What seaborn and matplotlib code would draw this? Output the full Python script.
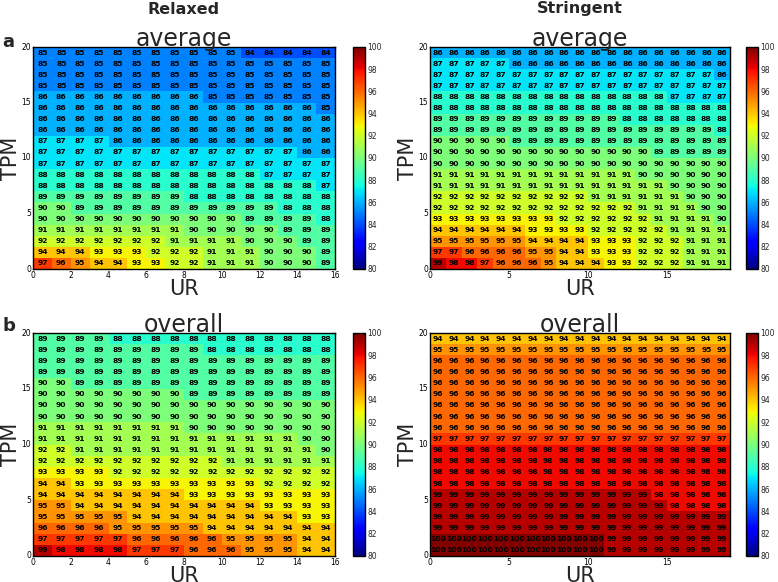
import pandas as pd
import matplotlib
matplotlib.use("Agg")
import matplotlib.pyplot as plt
import seaborn as sns

# cell values, rows from top (TPM 19-20) to bottom (TPM 0-1)
relaxed_avg = [
    [85, 85, 85, 85, 85, 85, 85, 85, 85, 85, 85, 84, 84, 84, 84, 84],
    [85, 85, 85, 85, 85, 85, 85, 85, 85, 85, 85, 85, 85, 85, 85, 85],
    [85, 85, 85, 85, 85, 85, 85, 85, 85, 85, 85, 85, 85, 85, 85, 85],
    [85, 85, 85, 85, 85, 85, 85, 85, 85, 85, 85, 85, 85, 85, 85, 85],
    [86, 86, 86, 86, 86, 86, 86, 86, 86, 85, 85, 85, 85, 85, 85, 85],
    [86, 86, 86, 86, 86, 86, 86, 86, 86, 86, 86, 86, 86, 86, 86, 85],
    [86, 86, 86, 86, 86, 86, 86, 86, 86, 86, 86, 86, 86, 86, 86, 86],
    [86, 86, 86, 86, 86, 86, 86, 86, 86, 86, 86, 86, 86, 86, 86, 86],
    [87, 87, 87, 87, 86, 86, 86, 86, 86, 86, 86, 86, 86, 86, 86, 86],
    [87, 87, 87, 87, 87, 87, 87, 87, 87, 87, 87, 87, 87, 87, 86, 86],
    [87, 87, 87, 87, 87, 87, 87, 87, 87, 87, 87, 87, 87, 87, 87, 87],
    [88, 88, 88, 88, 88, 88, 88, 88, 88, 88, 88, 88, 87, 87, 87, 87],
    [88, 88, 88, 88, 88, 88, 88, 88, 88, 88, 88, 88, 88, 88, 88, 87],
    [89, 89, 89, 89, 89, 89, 89, 89, 88, 88, 88, 88, 88, 88, 88, 88],
    [90, 90, 89, 89, 89, 89, 89, 89, 89, 89, 89, 89, 89, 88, 88, 88],
    [90, 90, 90, 90, 90, 90, 90, 90, 90, 90, 90, 89, 89, 89, 89, 88],
    [91, 91, 91, 91, 91, 91, 91, 91, 90, 90, 90, 90, 90, 89, 89, 89],
    [92, 92, 92, 92, 92, 92, 92, 91, 91, 91, 91, 90, 90, 90, 89, 89],
    [94, 94, 94, 93, 93, 93, 92, 92, 92, 91, 91, 91, 90, 90, 90, 89],
    [97, 96, 95, 94, 94, 93, 93, 92, 92, 91, 91, 91, 90, 90, 90, 89],
]

relaxed_all = [
    [89, 89, 89, 89, 88, 88, 88, 88, 88, 88, 88, 88, 88, 88, 88, 88],
    [89, 89, 89, 89, 89, 89, 89, 89, 89, 88, 88, 88, 88, 88, 88, 88],
    [89, 89, 89, 89, 89, 89, 89, 89, 89, 89, 89, 89, 89, 89, 89, 89],
    [89, 89, 89, 89, 89, 89, 89, 89, 89, 89, 89, 89, 89, 89, 89, 89],
    [90, 90, 89, 89, 89, 89, 89, 89, 89, 89, 89, 89, 89, 89, 89, 89],
    [90, 90, 90, 90, 90, 90, 90, 90, 89, 89, 89, 89, 89, 89, 89, 89],
    [90, 90, 90, 90, 90, 90, 90, 90, 90, 90, 90, 90, 90, 90, 90, 90],
    [90, 90, 90, 90, 90, 90, 90, 90, 90, 90, 90, 90, 90, 90, 90, 90],
    [91, 91, 91, 91, 91, 91, 91, 91, 90, 90, 90, 90, 90, 90, 90, 90],
    [91, 91, 91, 91, 91, 91, 91, 91, 91, 91, 91, 91, 91, 91, 90, 90],
    [92, 92, 91, 91, 91, 91, 91, 91, 91, 91, 91, 91, 91, 91, 91, 90],
    [92, 92, 92, 92, 92, 92, 92, 92, 92, 92, 91, 91, 91, 91, 91, 91],
    [93, 93, 93, 93, 92, 92, 92, 92, 92, 92, 92, 92, 92, 92, 92, 92],
    [94, 94, 93, 93, 93, 93, 93, 93, 93, 93, 93, 93, 92, 92, 92, 92],
    [94, 94, 94, 94, 94, 94, 94, 94, 93, 93, 93, 93, 93, 93, 93, 93],
    [95, 95, 94, 94, 94, 94, 94, 94, 94, 94, 94, 94, 93, 93, 93, 93],
    [95, 95, 95, 95, 95, 94, 94, 94, 94, 94, 94, 94, 94, 94, 93, 93],
    [96, 96, 96, 96, 95, 95, 95, 95, 95, 94, 94, 94, 94, 94, 94, 94],
    [97, 97, 97, 97, 97, 96, 96, 96, 96, 96, 95, 95, 95, 95, 94, 94],
    [99, 98, 98, 98, 98, 97, 97, 97, 96, 96, 96, 95, 95, 95, 94, 94],
]

stringent_avg = [
    [86, 86, 86, 86, 86, 86, 86, 86, 86, 86, 86, 86, 86, 86, 86, 86, 86, 86, 86],
    [87, 87, 87, 87, 87, 86, 86, 86, 86, 86, 86, 86, 86, 86, 86, 86, 86, 86, 86],
    [87, 87, 87, 87, 87, 87, 87, 87, 87, 87, 87, 87, 87, 87, 87, 87, 87, 87, 86],
    [87, 87, 87, 87, 87, 87, 87, 87, 87, 87, 87, 87, 87, 87, 87, 87, 87, 87, 87],
    [88, 88, 88, 88, 88, 88, 88, 88, 88, 88, 88, 88, 88, 88, 88, 87, 87, 87, 87],
    [88, 88, 88, 88, 88, 88, 88, 88, 88, 88, 88, 88, 88, 88, 88, 88, 88, 88, 88],
    [89, 89, 89, 89, 89, 89, 89, 89, 89, 89, 89, 89, 88, 88, 88, 88, 88, 88, 88],
    [89, 89, 89, 89, 89, 89, 89, 89, 89, 89, 89, 89, 89, 89, 89, 89, 89, 89, 88],
    [90, 90, 90, 90, 90, 89, 89, 89, 89, 89, 89, 89, 89, 89, 89, 89, 89, 89, 89],
    [90, 90, 90, 90, 90, 90, 90, 90, 90, 90, 90, 90, 90, 90, 89, 89, 89, 89, 89],
    [90, 90, 90, 90, 90, 90, 90, 90, 90, 90, 90, 90, 90, 90, 90, 90, 90, 90, 90],
    [91, 91, 91, 91, 91, 91, 91, 91, 91, 91, 91, 91, 91, 90, 90, 90, 90, 90, 90],
    [91, 91, 91, 91, 91, 91, 91, 91, 91, 91, 91, 91, 91, 91, 91, 90, 90, 90, 90],
    [92, 92, 92, 92, 92, 92, 92, 92, 92, 92, 91, 91, 91, 91, 91, 91, 90, 90, 90],
    [92, 92, 92, 92, 92, 92, 92, 92, 92, 92, 92, 92, 92, 91, 91, 91, 91, 90, 90],
    [93, 93, 93, 93, 93, 93, 93, 93, 92, 92, 92, 92, 92, 92, 91, 91, 91, 91, 90],
    [94, 94, 94, 94, 94, 94, 93, 93, 93, 93, 92, 92, 92, 92, 92, 91, 91, 91, 91],
    [95, 95, 95, 95, 95, 95, 94, 94, 94, 94, 93, 93, 93, 92, 92, 92, 91, 91, 91],
    [97, 97, 96, 96, 96, 96, 95, 95, 94, 94, 93, 93, 93, 92, 92, 92, 91, 91, 91],
    [99, 98, 98, 97, 96, 96, 96, 95, 94, 94, 94, 93, 93, 92, 92, 92, 91, 91, 91],
]

stringent_all = [
    [94, 94, 94, 94, 94, 94, 94, 94, 94, 94, 94, 94, 94, 94, 94, 94, 94, 94, 94],
    [95, 95, 95, 95, 95, 95, 95, 95, 95, 95, 95, 95, 95, 95, 95, 95, 95, 95, 95],
    [96, 96, 96, 96, 96, 96, 96, 96, 96, 96, 96, 96, 96, 96, 96, 96, 96, 96, 96],
    [96, 96, 96, 96, 96, 96, 96, 96, 96, 96, 96, 96, 96, 96, 96, 96, 96, 96, 96],
    [96, 96, 96, 96, 96, 96, 96, 96, 96, 96, 96, 96, 96, 96, 96, 96, 96, 96, 96],
    [96, 96, 96, 96, 96, 96, 96, 96, 96, 96, 96, 96, 96, 96, 96, 96, 96, 96, 96],
    [96, 96, 96, 96, 96, 96, 96, 96, 96, 96, 96, 96, 96, 96, 96, 96, 96, 96, 96],
    [96, 96, 96, 96, 96, 96, 96, 96, 96, 96, 96, 96, 96, 96, 96, 96, 96, 96, 96],
    [96, 96, 96, 96, 96, 96, 96, 96, 96, 96, 96, 96, 96, 96, 96, 96, 96, 96, 96],
    [97, 97, 97, 97, 97, 97, 97, 97, 97, 97, 97, 97, 97, 97, 97, 97, 97, 97, 97],
    [98, 98, 98, 98, 98, 98, 98, 98, 98, 98, 98, 98, 98, 98, 98, 98, 98, 98, 98],
    [98, 98, 98, 98, 98, 98, 98, 98, 98, 98, 98, 98, 98, 98, 98, 98, 98, 98, 98],
    [98, 98, 98, 98, 98, 98, 98, 98, 98, 98, 98, 98, 98, 98, 98, 98, 98, 98, 98],
    [98, 98, 98, 98, 98, 98, 98, 98, 98, 98, 98, 98, 98, 98, 98, 98, 98, 98, 98],
    [99, 99, 99, 99, 99, 99, 99, 99, 99, 99, 99, 99, 99, 99, 98, 98, 98, 98, 98],
    [99, 99, 99, 99, 99, 99, 99, 99, 99, 99, 99, 99, 99, 99, 99, 98, 98, 98, 98],
    [99, 99, 99, 99, 99, 99, 99, 99, 99, 99, 99, 99, 99, 99, 99, 99, 99, 99, 99],
    [99, 99, 99, 99, 99, 99, 99, 99, 99, 99, 99, 99, 99, 99, 99, 99, 99, 99, 99],
    [100, 100, 100, 100, 100, 100, 100, 100, 100, 100, 100, 99, 99, 99, 99, 99, 99, 99, 99],
    [100, 100, 100, 100, 100, 100, 100, 100, 100, 100, 100, 99, 99, 99, 99, 99, 99, 99, 99],
]

relaxed_xticks = [0, 2, 4, 6, 8, 10, 12, 14, 16]
stringent_xticks = [0, 5, 10, 15]
tpm_ticks = [20, 15, 10, 5, 0]
cbar_ticks = [80, 82, 84, 86, 88, 90, 92, 94, 96, 98, 100]

sns.set_style("white")
plt.rcParams['font.family'] = ['DejaVu Sans']

W, H = 778.0, 582.0
fig = plt.figure(figsize=(W / 100, H / 100), dpi=100)


def box(l, t, r, b):
    return [l / W, 1 - b / H, (r - l) / W, (b - t) / H]


def panel(values, xticks, hm, cb, title):
    ax = fig.add_axes(box(*hm))
    cax = fig.add_axes(box(*cb))
    df = pd.DataFrame(values)
    sns.heatmap(df, ax=ax, cbar_ax=cax, cmap="jet", vmin=80, vmax=100,
                annot=True, fmt="d",
                annot_kws={"size": 5.4, "weight": "bold", "color": "black"})
    nrow, ncol = df.shape
    ax.set_xlim(0, ncol)
    ax.set_ylim(nrow, 0)
    ax.set_xticks(xticks)
    ax.set_xticklabels(xticks, rotation=0)
    ax.set_yticks([nrow - t for t in tpm_ticks])
    ax.set_yticklabels(tpm_ticks, rotation=0)
    ax.tick_params(direction="in", length=3, width=0.8, top=True, right=True,
                   labelsize=5.5, pad=1.5, color="black", labelcolor="black")
    for sp in ax.spines.values():
        sp.set_visible(True)
        sp.set_color("black")
        sp.set_linewidth(1)
    ax.set_xlabel("UR", fontsize=15, labelpad=-1)
    ax.set_ylabel("TPM", fontsize=15, labelpad=0)
    ax.set_title(title, fontsize=17, pad=1)

    cbar = ax.collections[0].colorbar
    cbar.set_ticks(cbar_ticks)
    cbar.outline.set_linewidth(1)
    cbar.outline.set_edgecolor("black")
    cax.tick_params(labelsize=5.5, length=2, width=0.8, pad=1.5, direction="in")
    return ax


panel(relaxed_avg, relaxed_xticks, (33, 47, 335, 269), (353, 47, 365, 269), "average")
panel(stringent_avg, stringent_xticks, (430, 47, 730, 269), (746, 47, 758, 269), "average")
panel(relaxed_all, relaxed_xticks, (33, 333, 335, 556), (353, 333, 365, 556), "overall")
panel(stringent_all, stringent_xticks, (430, 333, 730, 556), (746, 333, 758, 556), "overall")

fig.text(184 / W, 1 - 9 / H, "Relaxed", fontsize=11.5, weight="bold", ha="center", va="center")
fig.text(580 / W, 1 - 9 / H, "Stringent", fontsize=11.5, weight="bold", ha="center", va="center")
fig.text(2 / W, 1 - 42 / H, "a", fontsize=13, weight="bold", ha="left", va="center")
fig.text(2 / W, 1 - 326 / H, "b", fontsize=13, weight="bold", ha="left", va="center")

fig.savefig("out.png", dpi=100)
